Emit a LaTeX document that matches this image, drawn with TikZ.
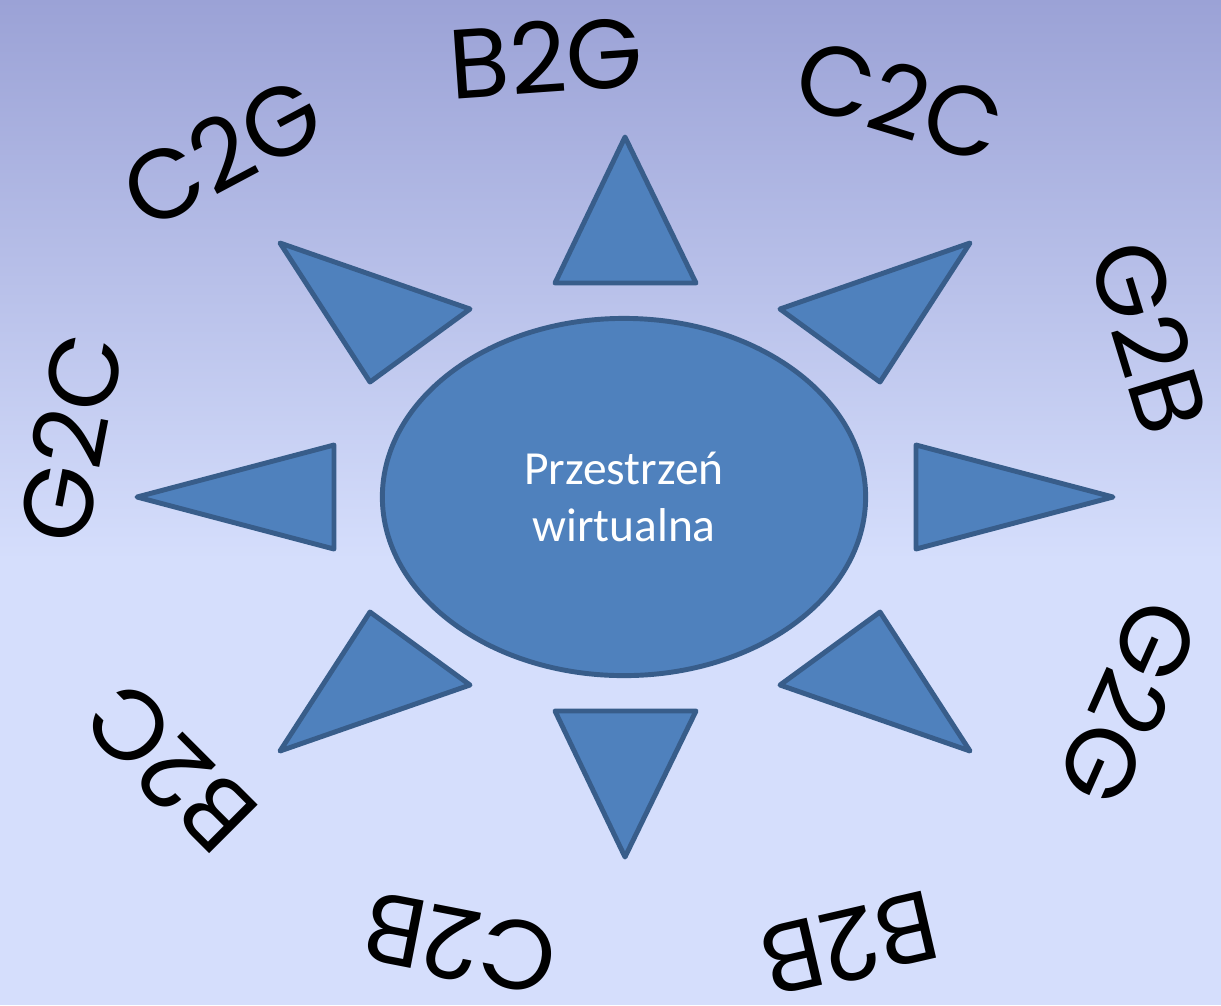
\documentclass[tikz,border=0pt]{standalone}
\usepackage{fontspec}
\setmainfont{Carlito}
\newfontfamily\tagfont{Poppins}
\usetikzlibrary{shapes.geometric}

\definecolor{rayfill}{RGB}{79,129,189}
\definecolor{rayedge}{RGB}{56,93,138}
\definecolor{bgtop}{RGB}{155,162,214}
\definecolor{bgbottom}{RGB}{213,222,252}

\tikzset{
  ray/.style={draw=rayedge,fill=rayfill,line width=1.4pt,line join=round},
  tag/.style={font=\tagfont\fontsize{28}{30}\selectfont,inner sep=0pt}
}

\begin{document}
\begin{tikzpicture}[x=0.01cm,y=-0.01cm]
\useasboundingbox (0,0) rectangle (1221,1005);

% background
\shade[top color=bgtop,bottom color=bgbottom] (0,0) rectangle (1221,560);
\fill[bgbottom] (0,559) rectangle (1221,1005);

% centre
\node[ellipse,ray,minimum width=4.83cm,minimum height=3.57cm,
      text=white,align=center,font=\fontsize{13.5}{16.2}\selectfont]
  (space) at (624,497) {Przestrzeń\\wirtualna};

% rays
\draw[ray] (625,137) -- (696,283) -- (555,283) -- cycle;
\draw[ray] (625,857) -- (696,711) -- (555,711) -- cycle;
\draw[ray] (137,497) -- (334,445) -- (334,549) -- cycle;
\draw[ray] (1113,497) -- (916,445) -- (916,549) -- cycle;
\draw[ray] (280,243) -- (470,309) -- (370,382) -- cycle;
\draw[ray] (970,243) -- (780,309) -- (880,382) -- cycle;
\draw[ray] (280,751) -- (470,685) -- (370,612) -- cycle;
\draw[ray] (970,751) -- (780,685) -- (880,612) -- cycle;

% labels
\node[tag,rotate=4]    (b2g) at (546,57)  {B2G};
\node[tag,rotate=-17]  (c2c) at (900,100) {C2C};
\node[tag,rotate=-73]  (g2b) at (1150,337) {G2B};
\node[tag,rotate=-114] (g2g) at (1130,703) {G2G};
\node[tag,rotate=-167] (b2b) at (850,945) {B2B};
\node[tag,rotate=169]  (c2b) at (460,945) {C2B};
\node[tag,rotate=135]  (b2c) at (170,768) {B2C};
\node[tag,rotate=79]   (g2c) at (70,438)  {G2C};
\node[tag,rotate=28]   (c2g) at (222,152) {C2G};

\end{tikzpicture}
\end{document}
